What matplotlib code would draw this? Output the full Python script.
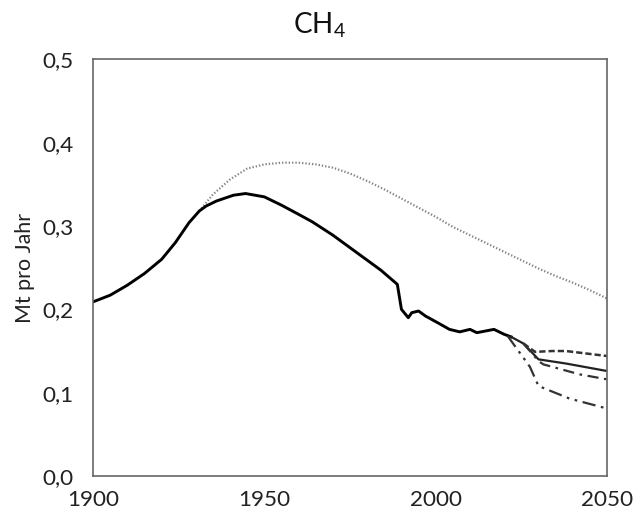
import matplotlib
matplotlib.use('Agg')
import matplotlib.pyplot as plt

# --- Daten ---
hist_years = [1900, 1905, 1910, 1915, 1920, 1924, 1928, 1931, 1933, 1936, 1941, 1944.5,
              1950, 1955, 1960, 1964, 1970, 1974, 1980, 1984, 1988.8, 1990, 1992,
              1993, 1995, 1997, 2001, 2004, 2007, 2010, 2012, 2017, 2020, 2022]
hist_values = [0.209, 0.217, 0.229, 0.243, 0.260, 0.280, 0.304, 0.318, 0.324, 0.330, 0.337, 0.339,
               0.335, 0.325, 0.314, 0.305, 0.289, 0.277, 0.259, 0.247, 0.230, 0.200, 0.190,
               0.196, 0.198, 0.192, 0.183, 0.176, 0.173, 0.176, 0.172, 0.176, 0.170, 0.167]

# ohne Maßnahmen (gepunktet)
ref_years = [1931, 1935, 1940, 1945, 1950, 1955, 1960, 1965, 1970, 1975, 1980, 1985,
             1990, 1995, 2000, 2005, 2010, 2015, 2020, 2025, 2030, 2035, 2040, 2045, 2050]
ref_values = [0.318, 0.338, 0.356, 0.369, 0.374, 0.376, 0.376, 0.374, 0.370, 0.363, 0.354, 0.344,
              0.333, 0.322, 0.311, 0.299, 0.289, 0.279, 0.269, 0.259, 0.249, 0.240, 0.232, 0.223, 0.213]

# Szenarien
scen_solid_years = [2022, 2025.6, 2030, 2038, 2050]
scen_solid_values = [0.167, 0.159, 0.140, 0.135, 0.126]

scen_dash_years = [2025.6, 2029, 2034, 2038, 2050]
scen_dash_values = [0.159, 0.149, 0.150, 0.150, 0.144]

scen_dashdot_years = [2025.6, 2030, 2031.4, 2042, 2050]
scen_dashdot_values = [0.159, 0.138, 0.134, 0.122, 0.116]

scen_dashdotdot_years = [2021, 2027.5, 2030, 2039, 2050]
scen_dashdotdot_values = [0.168, 0.131, 0.108, 0.093, 0.081]

x_ticks = [1900, 1950, 2000, 2050]
y_ticks = [0.0, 0.1, 0.2, 0.3, 0.4, 0.5]

plt.rcParams['font.family'] = ['Lato', 'DejaVu Sans']
plt.rcParams['mathtext.fontset'] = 'custom'
plt.rcParams['mathtext.rm'] = 'Lato'

fig = plt.figure(figsize=(6.33, 5.15), dpi=100)
renderer = fig.canvas.get_renderer()


def fit_size(text, target_px, base=12.0):
    """Schriftgröße so wählen, dass der Text target_px breit wird."""
    t = fig.text(0, 0, text, fontsize=base)
    w = t.get_window_extent(renderer).width
    t.remove()
    return base * target_px / w


tick_fs = fit_size('0,5', 31)

ax = fig.add_axes([0.147, 0.0757, 0.812, 0.809])

ax.plot(ref_years, ref_values, color='#8a8080', lw=1.6, ls=(0, (0.6, 0.9)))
ax.plot(hist_years, hist_values, color='black', lw=2.1)
ax.plot(scen_solid_years, scen_solid_values, color='#222222', lw=1.6)
ax.plot(scen_dash_years, scen_dash_values, color='#333333', lw=1.8, ls=(0, (2.5, 1.2)))
ax.plot(scen_dashdot_years, scen_dashdot_values, color='#333333', lw=1.6,
        ls=(0, (5, 2.5, 1.2, 2.5)))
ax.plot(scen_dashdotdot_years, scen_dashdotdot_values, color='#333333', lw=1.6,
        ls=(0, (6, 2.5, 1.2, 2.5, 1.2, 2.5)))

ax.set_xlim(1900, 2050)
ax.set_ylim(0, 0.5)
ax.set_xticks(x_ticks)
ax.set_yticks(y_ticks)
ax.set_yticklabels([f'{v:.1f}'.replace('.', ',') for v in y_ticks])
ax.tick_params(length=0, colors='#222222', labelsize=tick_fs)
ax.tick_params(axis='y', pad=14)
ax.tick_params(axis='x', pad=10)
for s in ax.spines.values():
    s.set_color('#666666')
    s.set_linewidth(1.2)

ax.set_ylabel('Mt pro Jahr', fontsize=tick_fs * 0.95, color='#222222')
ax.yaxis.set_label_coords(-0.113, 0.5)
fig.text(0.504, 0.951, r'CH$_\mathrm{4}$', ha='center', va='center', fontsize=20, color='#111111')

plt.savefig('out.png', dpi=100)
plt.close(fig)
